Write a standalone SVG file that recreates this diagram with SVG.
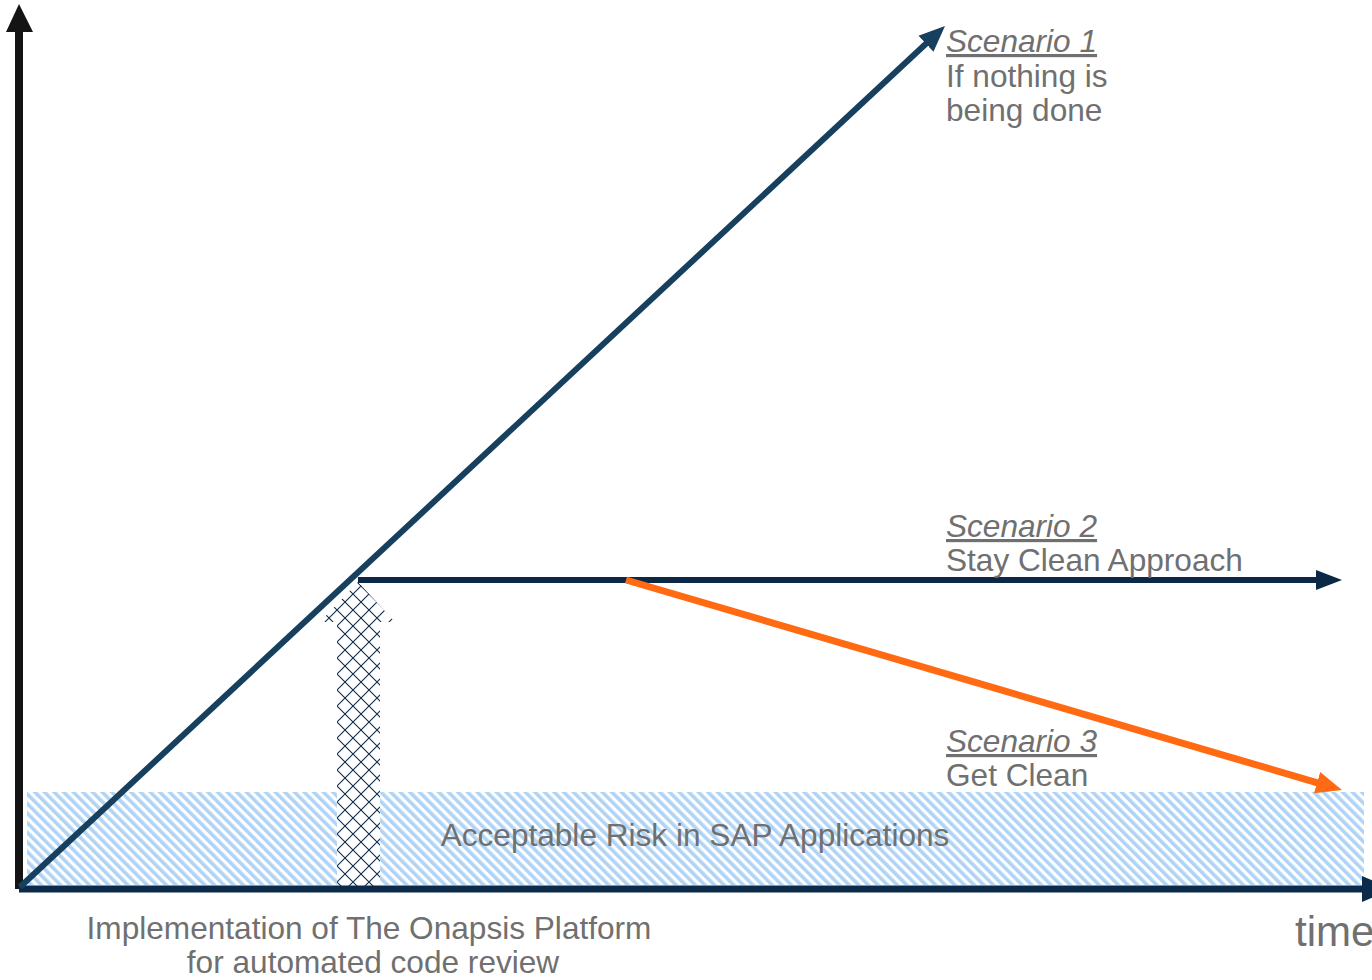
<svg xmlns="http://www.w3.org/2000/svg" width="1372" height="980" viewBox="0 0 1372 980">
  <style>
    .lbl { font-family: "Liberation Sans", Arial, sans-serif; font-size: 31.6px; fill: #707070; }
    .scn { font-style: italic; text-decoration: underline; }
  </style>
  <defs>
    <pattern id="stripes" patternUnits="userSpaceOnUse" width="6.8" height="6.8" patternTransform="rotate(-45)">
      <rect x="0" y="0" width="6.8" height="6.8" fill="#ffffff"/>
      <rect x="0" y="0" width="3.6" height="6.8" fill="#b0d4f6"/>
    </pattern>
    <pattern id="cross" patternUnits="userSpaceOnUse" x="337" y="2" width="16" height="16">
      <path d="M0,0 L16,16 M16,0 L0,16" stroke="#0d2c4d" stroke-width="1.1" fill="none"/>
    </pattern>
    <marker id="ahTeal" markerUnits="userSpaceOnUse" markerWidth="30" markerHeight="26" viewBox="0 -13 30 26" refX="4" refY="0" orient="auto">
      <path d="M0,-11 L26,0 L0,11 z" fill="#16405e"/>
    </marker>
    <marker id="ahNavy" markerUnits="userSpaceOnUse" markerWidth="30" markerHeight="26" viewBox="0 -13 30 26" refX="4" refY="0" orient="auto">
      <path d="M0,-10 L26,0 L0,10 z" fill="#0b2846"/>
    </marker>
    <marker id="ahOrange" markerUnits="userSpaceOnUse" markerWidth="30" markerHeight="26" viewBox="0 -13 30 26" refX="4" refY="0" orient="auto">
      <path d="M0,-11 L26,0 L0,11 z" fill="#ff6a13"/>
    </marker>
  </defs>

  <g id="acceptable-risk">
    <rect x="27" y="792" width="1337" height="93" fill="url(#stripes)"/>
    <text class="lbl" x="695" y="846" text-anchor="middle">Acceptable Risk in SAP Applications</text>
  </g>

  <g id="implementation-arrow">
    <polygon points="358,582 395,622 380,622 380,890 337,890 337,622 320,622" fill="#ffffff"/>
    <polygon points="358,582 395,622 380,622 380,890 337,890 337,622 320,622" fill="url(#cross)"/>
  </g>

  <g id="axes">
    <line x1="19" y1="30" x2="19" y2="889" stroke="#141414" stroke-width="8"/>
    <polygon points="19,4 33,32 6,32" fill="#141414"/>
    <line x1="19" y1="889" x2="1364" y2="889" stroke="#0c2b4b" stroke-width="7"/>
    <polygon points="1362,876 1392,889 1362,902" fill="#0c2b4b"/>
  </g>

  <g id="connectors">
    <line x1="20" y1="887" x2="928.9" y2="41" stroke="#16405e" stroke-width="6" marker-end="url(#ahTeal)"/>
    <line x1="358" y1="580" x2="1320" y2="580" stroke="#0b2846" stroke-width="6" marker-end="url(#ahNavy)"/>
    <line x1="626" y1="580" x2="1320.9" y2="783.8" stroke="#ff6a13" stroke-width="7" marker-end="url(#ahOrange)"/>
  </g>

  <g id="scenario1">
    <text class="lbl scn" x="946" y="52">Scenario 1</text>
    <text class="lbl" x="946" y="87">If nothing is</text>
    <text class="lbl" x="946" y="121">being done</text>
  </g>
  <g id="scenario2">
    <text class="lbl scn" x="946" y="537">Scenario 2</text>
    <text class="lbl" x="946" y="571">Stay Clean Approach</text>
  </g>
  <g id="scenario3">
    <text class="lbl scn" x="946" y="752">Scenario 3</text>
    <text class="lbl" x="946" y="786">Get Clean</text>
  </g>
  <g id="implementation-label">
    <text class="lbl" x="369" y="939" text-anchor="middle">Implementation of The Onapsis Platform</text>
    <text class="lbl" x="373" y="973" text-anchor="middle">for automated code review</text>
  </g>
  <g id="time-label">
    <text class="lbl" x="1295" y="946" style="font-size:42px">time</text>
  </g>
</svg>
